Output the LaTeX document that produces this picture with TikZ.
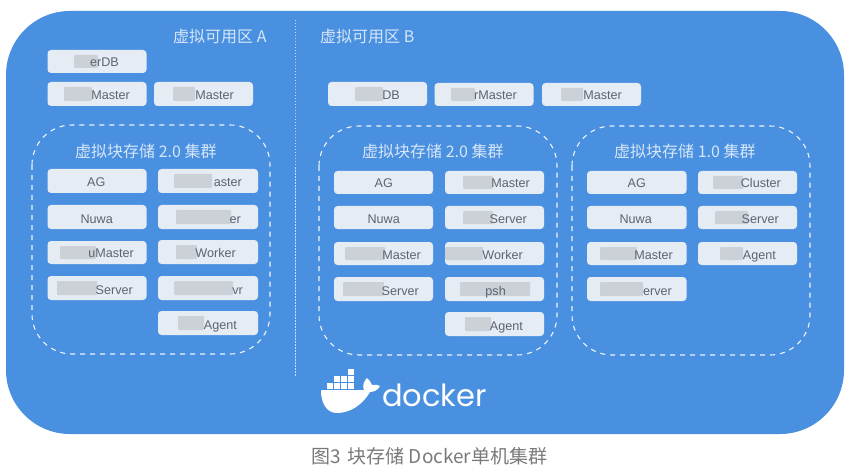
\documentclass[tikz,border=0pt]{standalone}
\usepackage{fontspec}
\setmainfont{Liberation Sans}
\newfontfamily\cjk{Noto Sans CJK SC}
\newfontfamily\dockerfont{Poppins}
\usetikzlibrary{calc}
\definecolor{panelblue}{HTML}{4A90E0}
\definecolor{boxfill}{HTML}{E6ECF4}
\definecolor{boxtext}{HTML}{5B6470}
\definecolor{titlec}{HTML}{D6E6F8}
\definecolor{blurc}{HTML}{C8CDD4}
\definecolor{capc}{HTML}{7A7A7A}
\tikzset{
  x=1pt,y=-1pt,
  panel/.style={fill=panelblue,rounded corners=64pt},
  cluster/.style={draw=white!90!panelblue,line width=1.1pt,dash pattern=on 5pt off 5pt,rounded corners=40pt},
  svcbox/.style={fill=boxfill,rounded corners=3.5pt},
  svctext/.style={text=boxtext,font=\fontsize{12.6}{14}\selectfont,inner sep=0pt,anchor=base east},
  blurpatch/.style={fill=blurc,fill opacity=.85,rounded corners=1pt},
  zonetitle/.style={text=titlec,font=\cjk\fontsize{16}{17}\selectfont,inner sep=0pt},
  clustertitle/.style={text=titlec,font=\cjk\fontsize{16}{17}\selectfont,inner sep=0pt},
}
% #1 name, #2 x0, #3 x1, #4 y0, #5 y1, #6 text, #7 text right edge, #8 blur x0, #9 blur x1
\newcommand{\svc}[9]{%
  \fill[svcbox] (#2,#4) rectangle (#3,#5);
  \ifdim #8pt<#9pt \fill[blurpatch] (#8,#4+5) rectangle (#9,#5-5); \fi
  \node[svctext] (#1) at (#7,#5-6) {#6};
}
\begin{document}
\begin{tikzpicture}
\useasboundingbox (0,0) rectangle (852,468);
\fill[white] (0,0) rectangle (852,468);
\fill[panel] (6,11) rectangle (844,434);
\draw[white!70!panelblue,line width=.7pt,dash pattern=on 1.5pt off 1.5pt] (295,20) -- (295,376);
\node[zonetitle,anchor=west] (za) at (173,36) {虚拟可用区 A};
\node[zonetitle,anchor=west] (zb) at (320,36) {虚拟可用区 B};
\draw[cluster] (32,125) rectangle (270,354);
\draw[cluster] (319,126) rectangle (557,355);
\draw[cluster] (572,126) rectangle (810,355);
\node[clustertitle,anchor=west] (ca) at (75,151) {虚拟块存储 2.0 集群};
\node[clustertitle,anchor=west] (cb) at (362,151) {虚拟块存储 2.0 集群};
\node[clustertitle,anchor=west] (cc) at (614,151) {虚拟块存储 1.0 集群};
% zone A
\svc{a1}{47.5}{146.5}{50}{73}{erDB}{119}{74}{98}
\svc{a2}{47.5}{146.5}{82}{106}{Master}{130}{64}{92}
\svc{a3}{154}{253}{82}{106}{Master}{234}{173}{195}
\svc{a4}{47.5}{146.5}{169}{193}{AG}{105.5}{0}{0}
\svc{a5}{158}{258}{169}{193}{aster}{242}{174}{212}
\svc{a6}{47.5}{146.5}{205}{229}{Nuwa}{113}{0}{0}
\svc{a7}{158}{258}{205}{229}{er}{241}{176}{231}
\svc{a8}{47.5}{146.5}{241}{264}{uMaster}{134}{60}{96}
\svc{a9}{158}{258}{240}{264}{Worker}{236}{176}{197}
\svc{a10}{47.5}{146.5}{276}{300}{Server}{133}{57}{97}
\svc{a11}{158}{258}{276}{300}{vr}{243}{174}{233}
\svc{a12}{158}{258}{311}{335}{Agent}{237}{178}{204}
% zone B
\svc{b1}{328}{427}{82}{106}{DB}{400}{355}{383}
\svc{b2}{434.5}{533.5}{83}{106}{rMaster}{517}{451}{475}
\svc{b3}{542}{641}{83}{106}{Master}{622}{561}{583}
\svc{b4}{334}{433}{171}{194}{AG}{393}{0}{0}
\svc{b5}{445}{544}{171}{194}{Master}{530}{463}{493}
\svc{b6}{334}{433}{206}{229}{Nuwa}{400}{0}{0}
\svc{b7}{445}{544}{206}{229}{Server}{527}{463}{493}
\svc{b8}{334}{433}{242}{265}{Master}{421}{345}{385}
\svc{b9}{445}{544}{242}{265}{Worker}{523}{445}{483}
\svc{b10}{334}{433}{277}{301}{Server}{419}{343}{384}
\svc{b11}{445}{544}{277}{301}{psh}{506}{460}{530}
\svc{b12}{445}{544}{312}{336}{Agent}{523}{465}{491}
% cluster C
\svc{c1}{587}{686.5}{171}{194}{AG}{646}{0}{0}
\svc{c2}{698}{797}{171}{194}{Cluster}{781}{713}{743}
\svc{c3}{587}{686.5}{206}{229}{Nuwa}{652}{0}{0}
\svc{c4}{698}{797}{206}{229}{Server}{779}{715}{748}
\svc{c5}{587}{686.5}{242}{265}{Master}{673}{600}{637}
\svc{c6}{698}{797}{242}{265}{Agent}{776}{720}{743}
\svc{c7}{587}{686.5}{277}{301}{erver}{672}{600}{643}
% docker whale
\fill[white] (321,391) .. controls (321,390) and (322,390) .. (323,390) -- (364,390)
  .. controls (362,386) and (364,381) .. (367,378) .. controls (369,380) and (371,382) .. (372,385)
  .. controls (375,384) and (378,385) .. (380,386) .. controls (378,390) and (374,392) .. (370,392)
  .. controls (363,404) and (351,413) .. (337,413) .. controls (326,413) and (321,402) .. (321,391) -- cycle;
\foreach \bx/\by in {327/383,334/383,341/383,348/383,334/376,341/376,348/376,348/369}
  \fill[white] (\bx,\by) rectangle ++(6,6);
\node[text=white,font=\dockerfont\fontsize{30.5}{31}\selectfont,inner sep=0pt,anchor=base west] (dk) at (382,406) {docker};
\node[text=capc,font=\cjk\fontsize{19}{20}\selectfont,inner sep=0pt,anchor=west] (cap) at (311,456) {图3\hspace{7pt}块存储 Docker单机集群};
\end{tikzpicture}
\end{document}
